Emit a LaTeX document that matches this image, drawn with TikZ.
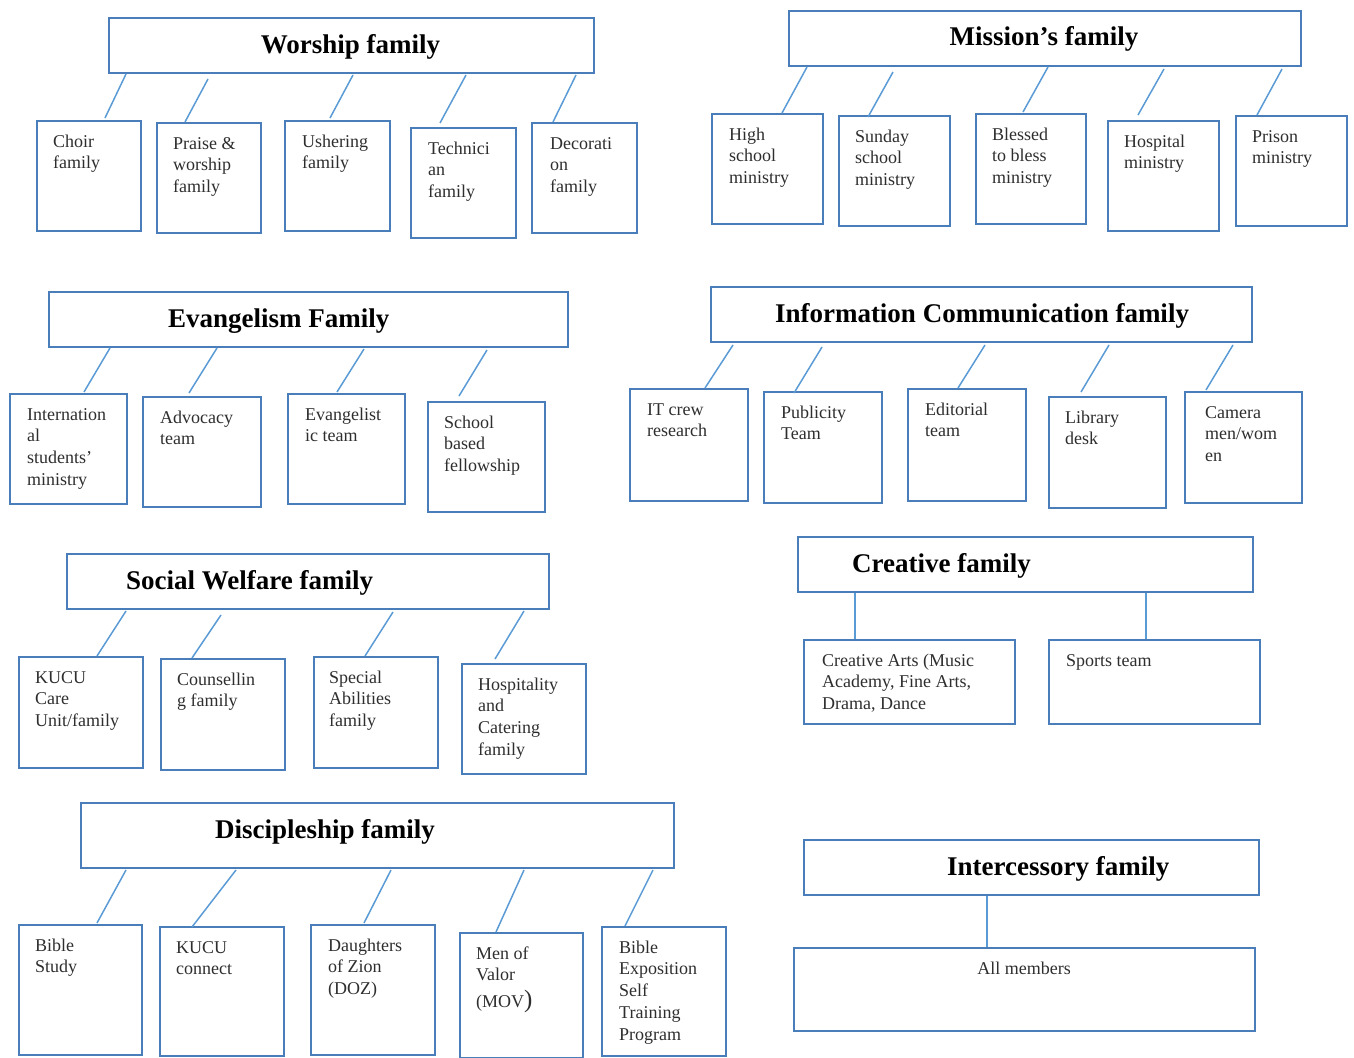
\documentclass[tikz,border=0pt]{standalone}
\usepackage{fontspec}
\setmainfont{Liberation Serif}
\definecolor{boxblue}{HTML}{4A7EBB}
\definecolor{lineblue}{HTML}{5B9BD5}
\definecolor{txtgray}{HTML}{2E2E2E}
\tikzset{
  kidbox/.style={draw=boxblue, line width=2pt, inner sep=0pt},
  titlebox/.style={draw=boxblue, line width=2pt, inner sep=0pt},
  kidtext/.style={anchor=north west, inner sep=0pt, align=left, text=txtgray, font=\fontsize{18}{21.7}\selectfont},
  titletext/.style={inner sep=0pt, font=\fontsize{27}{32}\selectfont\bfseries, text=black},
  conn/.style={draw=lineblue, line width=1.5pt},
}
% name, x1, y1, x2, y2
\newcommand\mkbox[6]{%
  \pgfmathsetmacro\bw{#5-#3}\pgfmathsetmacro\bh{#6-#4}%
  \node[#1, minimum width=\bw pt, minimum height=\bh pt, anchor=north west] (#2) at (#3,#4) {};}
% name, x1, y1, x2, y2, dx, text
\newcommand\kid[7]{%
  \mkbox{kidbox}{#1}{#2}{#3}{#4}{#5}%
  \node[kidtext] (#1t) at ([shift={(#6,13)}]#1.north west) {\rule{0pt}{14pt}#7};}
% parent, ax, ay, child, bx, by
\newcommand\conn[6]{\draw[conn] ([shift={(#2,#3)}]#1.south west) -- ([shift={(#5,#6)}]#4.north west);}
\begin{document}
\begin{tikzpicture}[x=1pt, y=-1pt]
\useasboundingbox (0,0) rectangle (1354,1057);

% ---------------- Worship
\mkbox{titlebox}{W}{108}{17}{593}{72}
\node[titletext, anchor=base] (Wt) at (350.5,53) {Worship family};
\kid{w1}{36}{120}{140}{230}{17}{Choir\\family}
\kid{w2}{156}{122}{260}{232}{17}{Praise \&\\worship\\family}
\kid{w3}{284}{120}{389}{230}{18}{Ushering\\family}
\kid{w4}{410}{127}{515}{237}{18}{Technici\\an\\family}
\kid{w5}{531}{122}{636}{232}{19}{Decorati\\on\\family}
\conn{W}{18}{0}{w1}{69}{-2}
\conn{W}{100}{5}{w2}{29}{0}
\conn{W}{245}{1}{w3}{46}{-2}
\conn{W}{358}{1}{w4}{30}{-4}
\conn{W}{468}{1}{w5}{22}{0}

% ---------------- Mission
\mkbox{titlebox}{M}{788}{10}{1300}{65}
\node[titletext, anchor=base] (Mt) at (1044,46) {Mission’s family};
\kid{m1}{711}{113}{822}{223}{18}{High\\school\\ministry}
\kid{m2}{838}{115}{949}{225}{17}{Sunday\\school\\ministry}
\kid{m3}{975}{113}{1085}{223}{17}{Blessed\\to bless\\ministry}
\kid{m4}{1107}{120}{1218}{230}{17}{Hospital\\ministry}
\kid{m5}{1235}{115}{1346}{225}{17}{Prison\\ministry}
\conn{M}{19}{0}{m1}{71}{0}
\conn{M}{105}{5}{m2}{30}{2}
\conn{M}{260}{0}{m3}{48}{-1}
\conn{M}{376}{2}{m4}{31}{-5}
\conn{M}{494}{2}{m5}{22}{0}

% ---------------- Evangelism
\mkbox{titlebox}{E}{48}{291}{567}{346}
\node[titletext, anchor=base west] (Et) at (168,327) {Evangelism Family};
\kid{e1}{9}{393}{126}{503}{18}{Internation\\al\\students’\\ministry}
\kid{e2}{142}{396}{260}{506}{18}{Advocacy\\team}
\kid{e3}{287}{393}{404}{503}{18}{Evangelist\\ic team}
\kid{e4}{427}{401}{544}{511}{17}{School\\based\\fellowship}
\conn{E}{62}{0}{e1}{75}{-1}
\conn{E}{169}{0}{e2}{47}{-3}
\conn{E}{316}{1}{e3}{50}{-1}
\conn{E}{439}{2}{e4}{32}{-5}

% ---------------- Information Communication
\mkbox{titlebox}{I}{710}{286}{1251}{341}
\node[titletext, anchor=base] (It) at (982,322) {Information Communication family};
\kid{i1}{629}{388}{747}{500}{18}{IT crew\\research}
\kid{i2}{763}{391}{881}{502}{18}{Publicity\\Team}
\kid{i3}{907}{388}{1025}{500}{18}{Editorial\\team}
\kid{i4}{1048}{396}{1165}{507}{17}{Library\\desk}
\kid{i5}{1184}{391}{1301}{502}{21}{Camera\\men/wom\\en}
\conn{I}{23}{2}{i1}{76}{0}
\conn{I}{112}{4}{i2}{31}{2}
\conn{I}{275}{2}{i3}{51}{0}
\conn{I}{399}{2}{i4}{33}{-4}
\conn{I}{523}{2}{i5}{22}{-1}

% ---------------- Social Welfare
\mkbox{titlebox}{S}{66}{553}{548}{608}
\node[titletext, anchor=base west] (St) at (126,589) {Social Welfare family};
\kid{s1}{18}{656}{142}{767}{17}{KUCU\\Care\\Unit/family}
\kid{s2}{160}{658}{284}{769}{17}{Counsellin\\g family}
\kid{s3}{313}{656}{437}{767}{16}{Special\\Abilities\\family}
\kid{s4}{461}{663}{585}{773}{17}{Hospitality\\and\\Catering\\family}
\conn{S}{60}{1}{s1}{79}{0}
\conn{S}{155}{5}{s2}{32}{0}
\conn{S}{327}{2}{s3}{52}{0}
\conn{S}{458}{1}{s4}{34}{-4}

% ---------------- Creative
\mkbox{titlebox}{C}{797}{536}{1252}{591}
\node[titletext, anchor=base west] (Ct) at (852,572) {Creative family};
\kid{c1}{803}{639}{1014}{723}{19}{Creative Arts (Music\\Academy, Fine Arts,\\Drama, Dance}
\kid{c2}{1048}{639}{1259}{723}{18}{Sports team}
\conn{C}{58}{0}{c1}{52}{0}
\conn{C}{349}{0}{c2}{98}{0}

% ---------------- Discipleship
\mkbox{titlebox}{D}{80}{802}{673}{867}
\node[titletext, anchor=base west] (Dt) at (215,838) {Discipleship family};
\kid{d1}{18}{924}{141}{1054}{17}{Bible\\Study}
\kid{d2}{159}{926}{283}{1055}{17}{KUCU\\connect}
\kid{d3}{310}{924}{434}{1054}{18}{Daughters\\of Zion\\(DOZ)}
\kid{d4}{459}{932}{582}{1057}{17}{Men of\\Valor\\[5pt](MOV{\fontsize{25}{25}\selectfont)}}
\kid{d5}{601}{926}{725}{1055}{18}{Bible\\Exposition\\Self\\Training\\Program}
\conn{D}{46}{1}{d1}{79}{-1}
\conn{D}{156}{1}{d2}{33}{1}
\conn{D}{311}{1}{d3}{54}{-1}
\conn{D}{444}{1}{d4}{37}{0}
\conn{D}{573}{1}{d5}{24}{0}

% ---------------- Intercessory
\mkbox{titlebox}{X}{803}{839}{1258}{894}
\node[titletext, anchor=base west] (Xt) at (947,875) {Intercessory family};
\mkbox{kidbox}{x1}{793}{947}{1254}{1030}
\node[kidtext, anchor=north] (x1t) at (1024,960) {\rule{0pt}{14pt}All members};
\conn{X}{184}{0}{x1}{194}{0}
\end{tikzpicture}
\end{document}
